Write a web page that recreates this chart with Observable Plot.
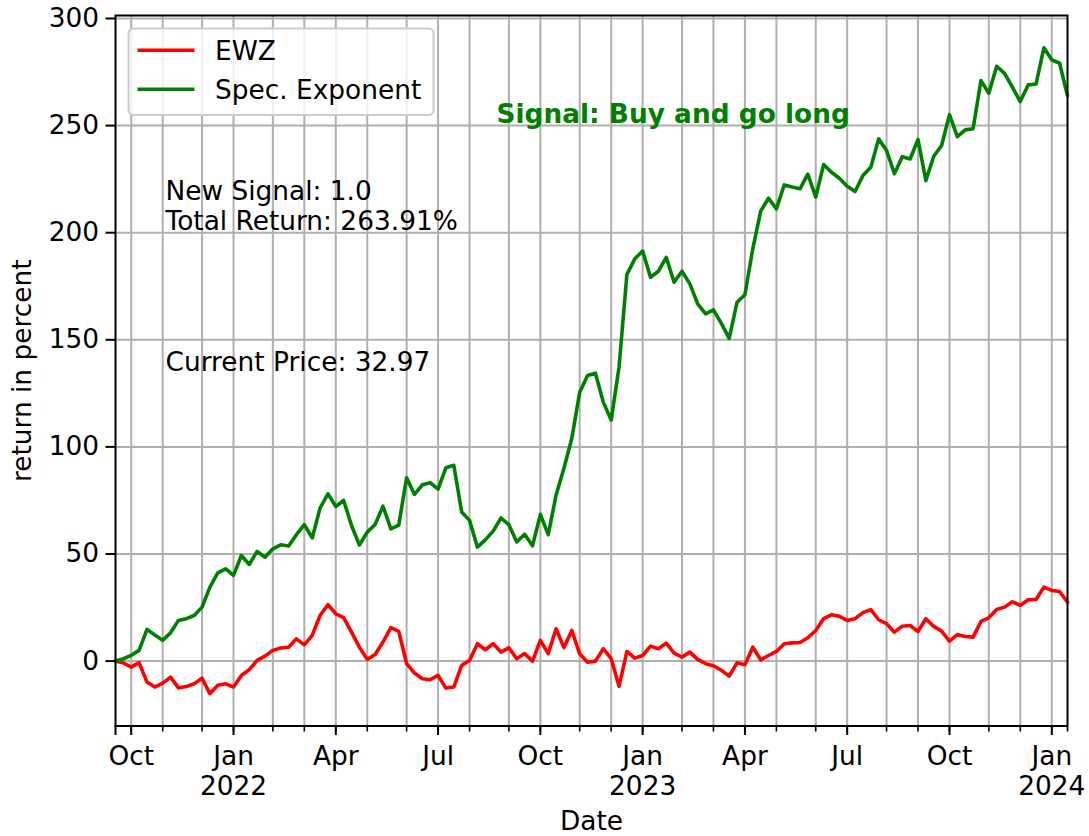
<!DOCTYPE html>
<html>
<head>
<meta charset="utf-8">
<script src="https://cdn.jsdelivr.net/npm/d3@7"></script>
<script src="https://cdn.jsdelivr.net/npm/@observablehq/plot@0.6"></script>
<style>
  html, body { margin: 0; padding: 0; background: #ffffff; }
  #chart { position: relative; width: 1089px; height: 836px; overflow: hidden; }
</style>
</head>
<body>
<div id="chart"></div>
<script>
// ---------- data (weekly, first week starting Monday 2021-09-20) ----------
const startDate = "2021-09-20";

const ewz = [
  0, -0.9, -2.8, -0.7, -9.8, -12.1, -10.3, -7.5, -12.5, -11.9,
  -10.6, -8.0, -15.2, -11.3, -10.6, -12.1, -6.7, -4.0, 0.3, 2.3,
  5.0, 6.1, 6.5, 10.4, 7.6, 12.0, 21.3, 26.3, 22.1, 20.3,
  13.5, 6.5, 0.8, 3.1, 8.9, 15.6, 13.9, -1.2, -5.6, -8.2,
  -8.7, -6.7, -12.6, -12.1, -2.0, 0.3, 8.1, 5.3, 8.1, 4.2,
  6.2, 1.1, 3.5, -0.1, 9.7, 3.5, 15.1, 6.3, 14.3, 3.4,
  -0.5, 0.0, 5.8, 1.2, -11.8, 4.5, 1.4, 2.6, 7.0, 5.8,
  8.4, 3.7, 1.9, 4.2, 0.8, -1.2, -2.2, -4.3, -7.0, -0.8,
  -1.7, 6.5, 0.6, 2.6, 4.5, 8.1, 8.5, 8.7, 10.9, 14.3,
  19.8, 21.6, 20.9, 19.0, 19.8, 22.6, 24.0, 19.3, 17.5, 13.5,
  16.3, 16.6, 13.8, 19.8, 16.2, 14.0, 9.3, 12.4, 11.5, 11.2,
  18.5, 20.2, 24.1, 25.2, 27.7, 26.0, 28.6, 28.8, 34.5, 33.0,
  32.5, 27.5
];

const specExponent = [
  0, 1.1, 2.7, 5.0, 14.8, 12.2, 9.7, 13.2, 19.0, 19.8,
  21.3, 25.2, 34.5, 41.2, 43.1, 40.0, 49.3, 45.1, 51.2, 48.5,
  52.4, 54.3, 53.7, 59.0, 63.7, 57.5, 71.4, 78.1, 72.2, 75.0,
  63.3, 54.2, 60.2, 63.8, 72.3, 61.7, 63.5, 85.6, 77.8, 82.3,
  83.3, 80.3, 90.3, 91.4, 69.6, 65.7, 53.2, 56.6, 60.7, 66.8,
  63.7, 55.6, 59.2, 53.8, 68.5, 59.0, 77.5, 90.0, 104.0, 125.5,
  133.3, 134.4, 120.9, 112.5, 137.2, 180.5, 187.8, 191.4, 179.2, 182.0,
  188.5, 176.9, 182.0, 176.1, 166.8, 162.1, 164.0, 157.7, 150.7, 167.5,
  171.0, 192.5, 210.0, 216.1, 211.1, 222.3, 221.3, 220.5, 227.3, 216.6,
  231.8, 228.2, 225.4, 221.7, 219.2, 226.7, 230.6, 243.8, 238.4, 227.5,
  235.5, 234.4, 243.5, 224.3, 235.7, 240.7, 255.1, 244.9, 248.0, 248.5,
  271.0, 265.1, 277.7, 274.4, 267.9, 261.2, 269.0, 269.4, 286.3, 280.7,
  279.1, 263.9
];

const seriesNames = ["EWZ", "Spec. Exponent"];
const seriesColors = ["#ff0000", "#008000"];

// month ticks (pandas weekly axis: first week of each month)
const minorTicks = [
  "2021-10-04", "2021-11-01", "2021-12-06",
  "2022-01-03", "2022-02-07", "2022-03-07", "2022-04-04", "2022-05-02", "2022-06-06",
  "2022-07-04", "2022-08-01", "2022-09-05", "2022-10-03", "2022-11-07", "2022-12-05",
  "2023-01-02", "2023-02-06", "2023-03-06", "2023-04-03", "2023-05-01", "2023-06-05",
  "2023-07-03", "2023-08-07", "2023-09-04", "2023-10-02", "2023-11-06", "2023-12-04",
  "2024-01-01"
];
const majorTicks = ["2021-10-04", "2022-01-03", "2022-04-04", "2022-07-04", "2022-10-03",
                    "2023-01-02", "2023-04-03", "2023-07-03", "2023-10-02", "2024-01-01"];
const majorLabels = ["Oct", "Jan\n2022", "Apr", "Jul", "Oct", "Jan\n2023", "Apr", "Jul", "Oct", "Jan\n2024"];
const yTicks = [0, 50, 100, 150, 200, 250, 300];

const annotationTop = "New Signal: 1.0\nTotal Return: 263.91%";
const annotationPrice = "Current Price: 32.97";
const annotationSignal = "Signal: Buy and go long";

// ---------- build ----------
const DAY = 864e5;
const parse = s => new Date(s + "T00:00:00Z");
const t0 = parse(startDate);
const dates = ewz.map((_, i) => new Date(+t0 + i * 7 * DAY));
const rows = [];
seriesNames.forEach((name, k) => {
  const vals = k === 0 ? ewz : specExponent;
  vals.forEach((v, i) => rows.push({date: dates[i], value: v, series: name}));
});
const labelMap = new Map(majorTicks.map((d, i) => [+parse(d), majorLabels[i]]));

const FS = 26.4;
const FONT = "DejaVu Sans, sans-serif";

const chart = Plot.plot({
  width: 1089,
  height: 836,
  marginLeft: 115,
  marginRight: 22,
  marginTop: 15,
  marginBottom: 110.5,
  style: {fontFamily: FONT, fontSize: FS + "px", background: "#ffffff", color: "#000000", overflow: "visible"},
  x: {type: "utc", domain: [dates[0], dates[dates.length - 1]]},
  y: {domain: [-30.3, 301.4]},
  color: {domain: seriesNames, range: seriesColors},
  marks: [
    Plot.gridX(minorTicks.map(parse), {stroke: "#b0b0b0", strokeOpacity: 1, strokeWidth: 2}),
    Plot.gridY(yTicks, {stroke: "#b0b0b0", strokeOpacity: 1, strokeWidth: 2}),
    Plot.lineY(rows, {x: "date", y: "value", z: "series", stroke: "series", strokeWidth: 3.6, strokeLinejoin: "round"}),
    Plot.frame({stroke: "#000000", strokeWidth: 2}),
    Plot.axisY(yTicks, {tickSize: 9.5, tickPadding: 7, strokeWidth: 2, fontSize: FS, label: null}),
    Plot.axisX(minorTicks.map(parse).concat([dates[dates.length - 1]]), {tickSize: 6, strokeWidth: 1.6, fill: "none", label: null}),
    Plot.axisX(majorTicks.map(parse).concat([dates[0]]), {
      tickSize: 9.5, tickPadding: 8, strokeWidth: 2, fontSize: FS, lineHeight: 1.14,
      tickFormat: d => labelMap.get(+d) ?? "", label: null
    }),
    Plot.text(["return in percent"], {frameAnchor: "left", textAnchor: "middle", lineAnchor: "middle", rotate: -90, dx: -93, fontSize: FS, fill: "#000"}),
    Plot.text(["Date"], {frameAnchor: "bottom", textAnchor: "middle", lineAnchor: "bottom", dy: 104, fontSize: FS, fill: "#000"}),
    Plot.text([annotationTop], {frameAnchor: "top-left", textAnchor: "start", lineAnchor: "top", lineHeight: 1.14, dx: 50, dy: 163.3, fontSize: FS, fill: "#000"}),
    Plot.text([annotationPrice], {frameAnchor: "top-left", textAnchor: "start", lineAnchor: "top", dx: 50, dy: 337.2, fontSize: FS, fill: "#000"}),
    Plot.text([annotationSignal], {frameAnchor: "top-left", textAnchor: "start", lineAnchor: "top", dx: 381, dy: 89.2, fontSize: FS, fontWeight: "bold", fill: "#008000"})
  ]
});

document.getElementById("chart").appendChild(chart);

// ---------- legend (upper left, inside axes) ----------
const svg = d3.select(chart);
const lg = svg.append("g").attr("class", "legend");
lg.append("rect")
  .attr("x", 128.5).attr("y", 28.5).attr("width", 305).attr("height", 86.5)
  .attr("rx", 5).attr("ry", 5)
  .attr("fill", "#ffffff").attr("fill-opacity", 0.8)
  .attr("stroke", "#cccccc").attr("stroke-width", 2);
seriesNames.forEach((name, k) => {
  const cy = 50.3 + k * 39;
  lg.append("line")
    .attr("x1", 137.5).attr("x2", 194.5).attr("y1", cy).attr("y2", cy)
    .attr("stroke", seriesColors[k]).attr("stroke-width", 3.6);
  lg.append("text")
    .attr("x", 215).attr("y", cy + 9.6)
    .attr("text-anchor", "start")
    .attr("font-family", FONT).attr("font-size", FS).attr("fill", "#000")
    .text(name);
});
</script>
</body>
</html>
